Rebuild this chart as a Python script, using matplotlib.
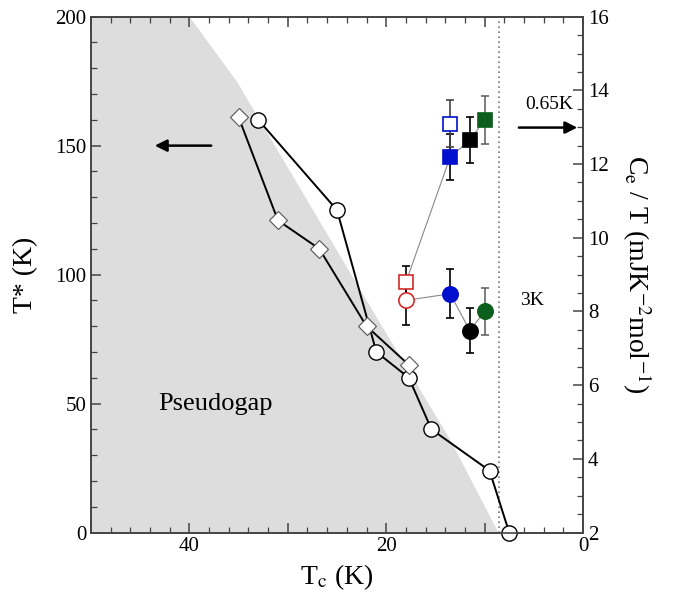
import numpy as np
import matplotlib.pyplot as plt
from matplotlib.ticker import MultipleLocator, FuncFormatter

plt.rcParams['font.family'] = ['Liberation Serif', 'DejaVu Serif']
plt.rcParams['mathtext.fontset'] = 'stix'

# pseudogap boundary (Tc, T*)
gap_tc = [50, 50, 40, 35.2, 22, 13.5, 8.6]
gap_t = [0, 200, 200, 175, 90, 36, 0]

# T* from two probes
circ_tc = [33, 25, 21, 17.7, 15.4, 9.5, 7.5]
circ_t = [160, 125, 70, 60, 40, 24, 0]
diam_tc = [35, 31, 26.8, 22, 17.7]
diam_t = [161, 121, 110, 80, 65]

# Ce/T at 0.65 K (squares) and 3 K (circles)
ce_tc = [18, 13.5, 11.5, 10]
ce_colors = ['#d42a2a', '#0010cc', 'black', '#0b5e1c']
ce_065 = [8.79, 12.19, 12.65, 13.20]
err_065 = [0.43, 0.63, 0.62, 0.66]
ce_3 = [8.30, 8.48, 7.48, 8.00]
err_3 = [0.67, 0.67, 0.60, 0.64]
open_tc, open_ce, open_err = 13.5, 13.10, 0.65

tc_line = 8.5

fig = plt.figure(figsize=(6.74, 5.95), dpi=100)
ax = fig.add_axes([0.135, 0.105, 0.73, 0.867])
ax2 = ax.twinx()

ax.fill(gap_tc, gap_t, color='#dcdddc', lw=0, zorder=0)
ax.axvline(tc_line, color='#777777', ls=(0, (1, 2)), lw=1.2, zorder=1)

ax.plot(circ_tc, circ_t, '-o', color='black', lw=1.4, ms=11,
        mfc='white', mec='black', mew=1.0, zorder=3, clip_on=False)
ax.plot(diam_tc, diam_t, '-D', color='black', lw=1.4, ms=9.5,
        mfc='white', mec='#555555', mew=0.8, zorder=3)

ax.set_xlim(50, 0)
ax.set_ylim(0, 200)
ax2.set_ylim(2, 16)

# thin connecting lines
ax2.plot(ce_tc, ce_065, '-', color='#888888', lw=0.8, zorder=2)
ax2.plot(ce_tc, ce_3, '-', color='#888888', lw=0.8, zorder=2)

for i in range(len(ce_tc)):
    ecol = '#666666' if i == 3 else 'black'
    fill = 'white' if i == 0 else ce_colors[i]
    ax2.errorbar(ce_tc[i], ce_065[i], yerr=err_065[i], fmt='s', ms=10,
                 mfc=fill, mec=ce_colors[i], mew=1.2, ecolor=ecol,
                 elinewidth=1.2, capsize=3, zorder=4)
    ax2.errorbar(ce_tc[i], ce_3[i], yerr=err_3[i], fmt='o', ms=11,
                 mfc=fill, mec=ce_colors[i], mew=1.2, ecolor=ecol,
                 elinewidth=1.2, capsize=3, zorder=4)
ax2.errorbar(open_tc, open_ce, yerr=open_err, fmt='s', ms=10, mfc='white',
             mec='#0010cc', mew=1.2, ecolor='#444444', elinewidth=1.2,
             capsize=3, zorder=4)

# arrows and labels
ax.annotate('', xy=(43.8, 150), xytext=(37.5, 150),
            arrowprops=dict(arrowstyle='-|>', color='black', lw=1.8,
                            mutation_scale=18))
ax.annotate('', xy=(0.3, 157), xytext=(6.8, 157),
            arrowprops=dict(arrowstyle='-|>', color='black', lw=1.8,
                            mutation_scale=18))
ax.text(3.45, 166, '0.65K', ha='center', va='center', fontsize=14)
ax.text(5.2, 90, '3K', ha='center', va='center', fontsize=14)
ax.text(37.4, 50, 'Pseudogap', ha='center', va='center', fontsize=19)

# ticks
ax.xaxis.set_major_locator(MultipleLocator(10))
ax.xaxis.set_minor_locator(MultipleLocator(2))
ax.xaxis.set_major_formatter(FuncFormatter(
    lambda v, p: '%d' % v if round(v) % 20 == 0 and v < 45 else ''))
ax.yaxis.set_major_locator(MultipleLocator(50))
ax.yaxis.set_minor_locator(MultipleLocator(10))
ax2.yaxis.set_major_locator(MultipleLocator(2))
ax2.yaxis.set_minor_locator(MultipleLocator(0.5))

ax.tick_params(which='both', direction='in', top=True, right=False,
               color='#444444', labelsize=15)
ax.tick_params(which='major', length=7, width=1.1)
ax.tick_params(which='minor', length=4, width=0.9)
ax2.tick_params(which='both', direction='in', color='#444444', labelsize=15)
ax2.tick_params(which='major', length=7, width=1.1)
ax2.tick_params(which='minor', length=4, width=0.9)

for a in (ax, ax2):
    for s in a.spines.values():
        s.set_color('#444444')
        s.set_linewidth(1.2)

ax.set_xlabel(r'T$_{\rm c}$ (K)', fontsize=20, labelpad=4)
ax.set_ylabel('T* (K)', fontsize=20, labelpad=12)
ax2.set_ylabel(r'C$_{\rm e}$ / T (mJK$^{-2}$mol$^{-1}$)', fontsize=20,
               rotation=270, labelpad=32)

fig.savefig('out.png', dpi=100)
